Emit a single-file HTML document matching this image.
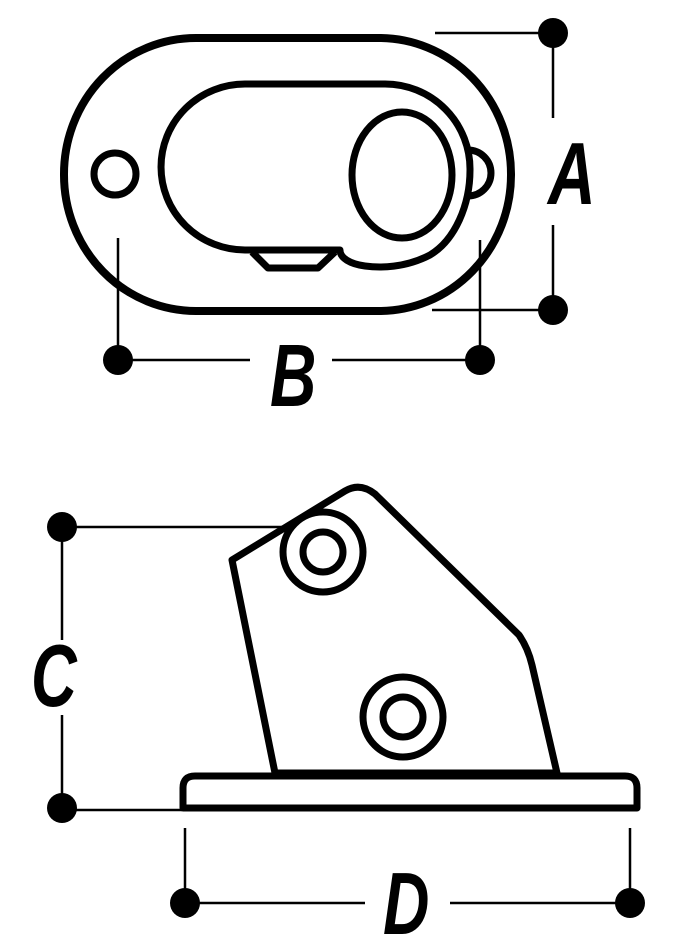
<!DOCTYPE html>
<html><head><style>html,body{margin:0;padding:0;background:#fff}svg{display:block}</style></head>
<body>
<svg width="682" height="952" viewBox="0 0 682 952" xmlns="http://www.w3.org/2000/svg">
<g fill="none" stroke="#000" stroke-width="8" stroke-linejoin="round">
  <rect x="64" y="38" width="447" height="273" rx="132" ry="136"/>
  <circle cx="115" cy="174" r="21" stroke-width="7"/>
  <path d="M468,150 A23,23 0 0 1 468,196" stroke-width="7"/>
  <path d="M340,250 L245,250 A84,83 0 0 1 245,84 L385,84 A85,85 0 0 1 470,170 C470,205 455,240 430,255 C405,268 380,268 365,266 C350,264 340,258 340,250 Z" stroke-width="7"/>
  <path d="M252,252 L268,268 L318,268 L335,252" stroke-width="7"/>
  <ellipse cx="402" cy="175" rx="50" ry="63" stroke-width="7"/>

  <path d="M183,808 L183,788 Q183,776 195,776 L625,776 Q637,776 637,788 L637,808 Z" stroke-width="7"/>
  <path d="M232,560 L345,491 Q360,482 375,494 L519,635 Q528,648 532,665 L557,773 L275,773 Z" stroke-width="7"/>
  <circle cx="323" cy="552" r="40" stroke-width="7"/>
  <circle cx="323" cy="552" r="20" stroke-width="7"/>
  <circle cx="403" cy="717" r="40" stroke-width="7"/>
  <circle cx="403" cy="717" r="20" stroke-width="7"/>
</g>
<g stroke="#000" stroke-width="2.5" fill="none">
  <path d="M435,33 H545 M553,45 V118 M553,225 V300 M432,310 H545"/>
  <path d="M118,238 V350 M118,360 H250 M332,360 H470 M480,240 V350"/>
  <path d="M62,527 H283 M62,540 V640 M62,715 V798 M62,810 H182"/>
  <path d="M185,828 V892 M185,903 H365 M450,903 H620 M630,828 V892"/>
</g>
<g fill="#000">
  <circle cx="553" cy="33" r="15"/><circle cx="553" cy="310" r="15"/>
  <circle cx="118" cy="360" r="15"/><circle cx="480" cy="360" r="15"/>
  <circle cx="62" cy="527" r="15"/><circle cx="62" cy="808" r="15"/>
  <circle cx="185" cy="903" r="15"/><circle cx="630" cy="903" r="15"/>
</g>
<g font-family="'Liberation Sans', sans-serif" font-weight="bold" font-style="italic" font-size="88" fill="#000">
  <text transform="translate(548,204) scale(0.75,1)">A</text>
  <text transform="translate(270,406) scale(0.73,1)">B</text>
  <text transform="translate(31,706) scale(0.72,1)">C</text>
  <text transform="translate(383,934) scale(0.73,1)">D</text>
</g>
</svg>
</body></html>
